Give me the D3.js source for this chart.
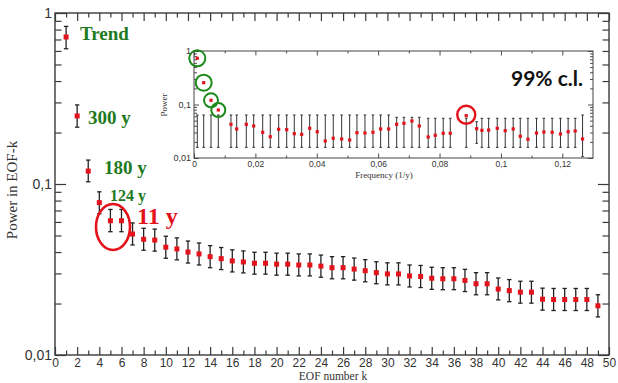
<!DOCTYPE html>
<html>
<head>
<meta charset="utf-8">
<script src="https://cdn.jsdelivr.net/npm/d3@7/dist/d3.min.js"></script>
<style>
body{margin:0;background:#fff;}
svg{display:block;font-family:"Liberation Serif","DejaVu Serif",serif;}
.ax path{display:none;}
.ax line{stroke:#3a3a3a;stroke-width:1.2;}
.ax text{fill:#333;}
</style>
</head>
<body>
<div id="chart"></div>
<script>
// ---- main panel : power of each EOF ----
var eofK = [1,2,3,4,5,6,7,8,9,10,11,12,13,14,15,16,17,18,19,20,21,22,23,24,25,
            26,27,28,29,30,31,32,33,34,35,36,37,38,39,40,41,42,43,44,45,46,47,48,49];
var eofPower = [0.724,0.25,0.119,0.0778,0.061,0.061,0.051,0.0475,0.047,0.0427,0.0417,0.040,0.039,
                0.0376,0.0366,0.0355,0.035,0.0344,0.0344,0.034,0.034,0.0336,0.0336,0.0331,0.0324,
                0.0324,0.0318,0.0311,0.0303,0.0298,0.0298,0.029,0.0288,0.0281,0.0279,0.0279,0.0273,
                0.0261,0.0261,0.0243,0.0238,0.0233,0.0233,0.0212,0.0211,0.0211,0.0211,0.0211,0.0194];
var eofHi = [0.835,0.29,0.138,0.090,0.071,0.071,0.0592,0.0551,0.0545,0.0495,0.0484,0.0464,0.0452,
             0.0436,0.0425,0.0412,0.0406,0.0399,0.0399,0.0394,0.0394,0.039,0.039,0.0384,0.0376,
             0.0376,0.0369,0.0361,0.0351,0.0346,0.0346,0.0336,0.0334,0.0326,0.0324,0.0324,0.0317,
             0.0303,0.0303,0.0282,0.0276,0.027,0.027,0.0246,0.0245,0.0245,0.0245,0.0245,0.0225];
var eofLo = [0.618,0.215,0.103,0.067,0.0526,0.0526,0.044,0.041,0.0405,0.0368,0.036,0.0345,0.0336,
             0.0324,0.0316,0.0306,0.0302,0.0297,0.0297,0.0293,0.0293,0.029,0.029,0.0285,0.0279,
             0.0279,0.0274,0.0268,0.0261,0.0257,0.0257,0.025,0.0248,0.0242,0.0241,0.0241,0.0235,
             0.0225,0.0225,0.021,0.0205,0.0201,0.0201,0.0183,0.0182,0.0182,0.0182,0.0182,0.0167];

// ---- inset : power vs frequency with 99% band ----
var insFreq = [0.00107,0.00316,0.00554,0.00792,0.01205,0.01391,0.01704,0.01945,0.02238,0.02485,
               0.02759,0.0302,0.03267,0.03508,0.03769,0.04016,0.04277,0.04537,0.04811,0.05072,
               0.05309,0.0557,0.05831,0.06081,0.06342,0.06603,0.0684,0.071,0.0734,0.0763,
               0.0786,0.0812,0.0835,0.0887,0.0921,0.0938,0.096,0.0988,0.1014,0.104,
               0.1063,0.1088,0.1116,0.114,0.1167,0.1194,0.1219,0.1242,0.1266];
var insPower = [0.731,0.2556,0.1198,0.0789,0.0426,0.0349,0.0426,0.0397,0.0302,0.025,
                0.0344,0.0338,0.0285,0.0277,0.0359,0.031,0.0208,0.0234,0.0227,0.0217,
                0.0297,0.0293,0.0302,0.0349,0.0349,0.0426,0.0445,0.0492,0.0397,0.0247,
                0.0266,0.029,0.029,0.0618,0.0353,0.0329,0.0333,0.0359,0.0324,0.0349,
                0.0255,0.0224,0.0293,0.0306,0.0302,0.0281,0.031,0.032,0.0227];
var insHi = [0.0636,0.0636,0.0636,0.0636,0.0636,0.0636,0.0636,0.0636,0.0636,0.0636,
             0.0636,0.0636,0.0636,0.0636,0.0636,0.0636,0.0636,0.0636,0.0636,0.0636,
             0.0636,0.0636,0.0636,0.0636,0.0636,0.0577,0.0577,0.0577,0.0577,0.0552,
             0.0552,0.0552,0.0552,0.0552,0.0477,0.0552,0.0552,0.0552,0.0552,0.0552,
             0.0552,0.0552,0.0552,0.0552,0.0552,0.0552,0.0552,0.0552,0.0636];
var insLo = [0.0158,0.0158,0.0158,0.0158,0.0158,0.0158,0.0158,0.0158,0.0158,0.0158,
             0.0158,0.0158,0.0158,0.0158,0.0158,0.0158,0.0158,0.0158,0.0158,0.0158,
             0.0158,0.0158,0.0158,0.0158,0.0158,0.0158,0.0158,0.0158,0.0158,0.0158,
             0.0158,0.0158,0.0158,0.0158,0.0188,0.0158,0.0158,0.0158,0.0158,0.0158,
             0.0158,0.0158,0.0158,0.0158,0.0158,0.0158,0.0158,0.0158,0.0106];

var mainXMajor = [0,2,4,6,8,10,12,14,16,18,20,22,24,26,28,30,32,34,36,38,40,42,44,46,48,50];
var mainXMinor = [1,3,5,7,9,11,13,15,17,19,21,23,25,27,29,31,33,35,37,39,41,43,45,47,49];
var decades = [0.01,0.1,1];
var logMinor = [0.02,0.03,0.04,0.05,0.06,0.07,0.08,0.09,0.2,0.3,0.4,0.5,0.6,0.7,0.8,0.9];
var insXMajor = [0,0.02,0.04,0.06,0.08,0.1,0.12];
var insXMinor = [0.01,0.03,0.05,0.07,0.09,0.11];

// green labels for the leading EOFs, red for the solar one
var eofNotes = [
    {text:"Trend", x:80,  y:40,  size:19},
    {text:"300 y", x:88,  y:124, size:19},
    {text:"180 y", x:104, y:174, size:19},
    {text:"124 y", x:110, y:201, size:16}
];

var W = 618, H = 383;
var commaFmt = d3.formatLocale({decimal:",", thousands:".", grouping:[3], currency:["",""]}).format("~g");

var svg = d3.select("#chart").append("svg").attr("width",W).attr("height",H);

// ************ main panel ************
var x = d3.scaleLinear().domain([0,50]).range([55,609]);
var y = d3.scaleLog().domain([0.01,1]).range([355,13]);

var drawTicks = function(g, scale, pos, vals, size, labels, fs, pad){
    var ax;
    if(pos=="bottom") ax = d3.axisBottom(scale);
    else if(pos=="top") ax = d3.axisTop(scale);
    else if(pos=="left") ax = d3.axisLeft(scale);
    else ax = d3.axisRight(scale);
    ax.tickValues(vals).tickSizeInner(-size).tickSizeOuter(0).tickPadding(pad||3)
      .tickFormat(labels ? commaFmt : function(){return "";});
    var a = g.append("g").attr("class","ax").call(ax);
    a.selectAll("text").style("font-size",(fs||12)+"px");
    return a;
};

var mx = svg.append("g").attr("transform","translate(0,355)");
drawTicks(mx, x, "bottom", mainXMajor, 8, true, 12, 3.5);
drawTicks(mx, x, "bottom", mainXMinor, 4.5, false);
var mt = svg.append("g").attr("transform","translate(0,13)");
drawTicks(mt, x, "top", mainXMajor, 8, false);
drawTicks(mt, x, "top", mainXMinor, 4.5, false);
var ml = svg.append("g").attr("transform","translate(55,0)");
drawTicks(ml, y, "left", decades, 11, true, 14, 3);
drawTicks(ml, y, "left", logMinor, 6.5, false);
var mr = svg.append("g").attr("transform","translate(609,0)");
drawTicks(mr, y, "right", decades, 11, false);
drawTicks(mr, y, "right", logMinor, 6.5, false);

svg.append("rect").attr("x",55).attr("y",13).attr("width",609-55).attr("height",355-13)
    .attr("fill","none").attr("stroke","#3a3a3a").attr("stroke-width",1.4);

// error bars + markers
var pts = svg.append("g").selectAll("g").data(eofK).enter().append("g");
pts.append("line")
    .attr("x1",function(d){return x(d);}).attr("x2",function(d){return x(d);})
    .attr("y1",function(d,i){return y(eofHi[i]);}).attr("y2",function(d,i){return y(eofLo[i]);})
    .attr("stroke","#222").attr("stroke-width",1.3);
pts.append("line")
    .attr("x1",function(d){return x(d)-2.2;}).attr("x2",function(d){return x(d)+2.2;})
    .attr("y1",function(d,i){return y(eofHi[i]);}).attr("y2",function(d,i){return y(eofHi[i]);})
    .attr("stroke","#222").attr("stroke-width",1.3);
pts.append("line")
    .attr("x1",function(d){return x(d)-2.2;}).attr("x2",function(d){return x(d)+2.2;})
    .attr("y1",function(d,i){return y(eofLo[i]);}).attr("y2",function(d,i){return y(eofLo[i]);})
    .attr("stroke","#222").attr("stroke-width",1.3);
pts.append("rect")
    .attr("x",function(d){return x(d)-2.5;})
    .attr("y",function(d,i){return y(eofPower[i])-2.5;})
    .attr("width",5).attr("height",5).attr("fill","#e4121b");

// axis titles
svg.append("text").attr("transform","translate(17,190) rotate(-90)")
    .attr("text-anchor","middle").style("font-size","15px").attr("fill","#333")
    .text("Power in EOF-k");
svg.append("text").attr("x",333).attr("y",379.5)
    .attr("text-anchor","middle").style("font-size","11.5px").attr("fill","#333")
    .text("EOF number k");

// ************ inset ************
var ix = d3.scaleLinear().domain([0,0.13]).range([194,593]);
var iy = d3.scaleLog().domain([0.01,1]).range([158,51]);
var inset = svg.append("g");
inset.append("rect").attr("x",194).attr("y",51).attr("width",593-194).attr("height",158-51)
    .attr("fill","#fff");

var ib = inset.append("g").attr("transform","translate(0,158)");
drawTicks(ib, ix, "bottom", insXMajor, 4.5, true, 8.5, 3);
drawTicks(ib, ix, "bottom", insXMinor, 2.5, false);
var it = inset.append("g").attr("transform","translate(0,51)");
drawTicks(it, ix, "top", insXMajor, 4.5, false);
drawTicks(it, ix, "top", insXMinor, 2.5, false);
var il = inset.append("g").attr("transform","translate(194,0)");
drawTicks(il, iy, "left", decades, 5, true, 9, 3);
drawTicks(il, iy, "left", logMinor, 3, false);
var ir = inset.append("g").attr("transform","translate(593,0)");
drawTicks(ir, iy, "right", decades, 5, false);
drawTicks(ir, iy, "right", logMinor, 3, false);
inset.selectAll(".ax line").style("stroke-width",0.9);

inset.append("rect").attr("x",194).attr("y",51).attr("width",593-194).attr("height",158-51)
    .attr("fill","none").attr("stroke","#444").attr("stroke-width",1);

var ipts = inset.append("g").selectAll("g").data(insFreq).enter().append("g");
ipts.append("line")
    .attr("x1",function(d){return ix(d);}).attr("x2",function(d){return ix(d);})
    .attr("y1",function(d,i){return iy(insHi[i]);}).attr("y2",function(d,i){return iy(insLo[i]);})
    .attr("stroke","#333").attr("stroke-width",1);
ipts.append("line")
    .attr("x1",function(d){return ix(d)-1.3;}).attr("x2",function(d){return ix(d)+1.3;})
    .attr("y1",function(d,i){return iy(insHi[i]);}).attr("y2",function(d,i){return iy(insHi[i]);})
    .attr("stroke","#333").attr("stroke-width",1);
ipts.append("line")
    .attr("x1",function(d){return ix(d)-1.3;}).attr("x2",function(d){return ix(d)+1.3;})
    .attr("y1",function(d,i){return iy(insLo[i]);}).attr("y2",function(d,i){return iy(insLo[i]);})
    .attr("stroke","#333").attr("stroke-width",1);
ipts.append("rect")
    .attr("x",function(d){return ix(d)-1.6;})
    .attr("y",function(d,i){return iy(insPower[i])-1.6;})
    .attr("width",3.2).attr("height",3.2).attr("fill","#e4121b");

inset.append("text").attr("transform","translate(167,105) rotate(-90)")
    .attr("text-anchor","middle").style("font-size","9px").attr("fill","#333").text("Power");
inset.append("text").attr("x",384).attr("y",178)
    .attr("text-anchor","middle").style("font-size","9px").attr("fill","#333").text("Frequency (1/y)");

// circles on the inset: first 4 EOFs in green, 11 y in red
inset.selectAll("circle.g").data([0,1,2,3]).enter().append("circle")
    .attr("cx",function(i){return ix(insFreq[i]);})
    .attr("cy",function(i){return iy(insPower[i]);})
    .attr("r",function(i){return i<2 ? 8 : 7;})
    .attr("fill","none").attr("stroke","#1b8a1b").attr("stroke-width",2);
inset.append("circle")
    .attr("cx",ix(insFreq[33])).attr("cy",iy(insPower[33])-1)
    .attr("r",9).attr("fill","none").attr("stroke","#e4121b").attr("stroke-width",2.4);

inset.append("text").attr("x",583).attr("y",86).attr("text-anchor","end")
    .style("font-family","Lato,'Open Sans',sans-serif").style("font-weight","bold")
    .style("font-size","21px").attr("fill","#111").text("99% c.l.");

// ************ annotations on the main panel ************
svg.selectAll("text.note").data(eofNotes).enter().append("text")
    .attr("x",function(d){return d.x;}).attr("y",function(d){return d.y;})
    .style("font-size",function(d){return d.size+"px";})
    .style("font-weight","bold").attr("fill","#1e7a1e")
    .text(function(d){return d.text;});

svg.append("ellipse").attr("cx",113).attr("cy",227).attr("rx",17).attr("ry",23)
    .attr("fill","none").attr("stroke","#e4121b").attr("stroke-width",2.6);
svg.append("text").attr("x",137).attr("y",224)
    .style("font-size","24px").style("font-weight","bold").attr("fill","#e4121b").text("11 y");
</script>
</body>
</html>
